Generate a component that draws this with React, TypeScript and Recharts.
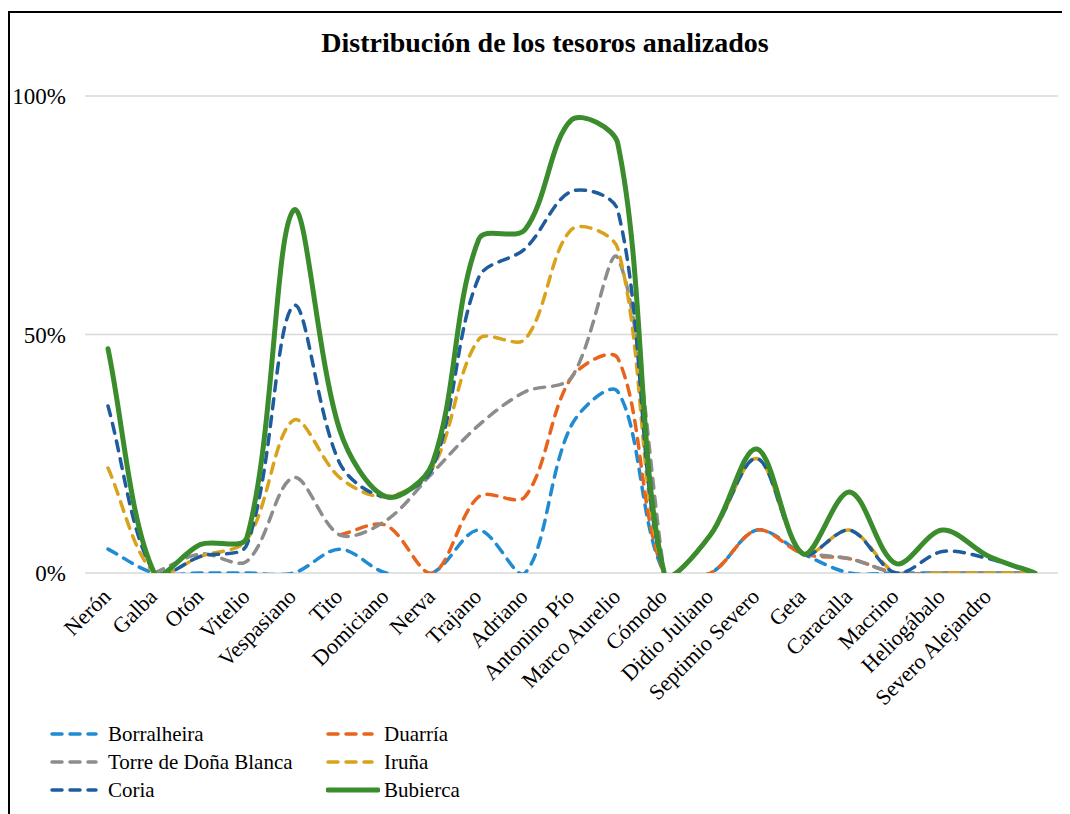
import React from 'react';
import { LineChart, Line, XAxis, YAxis, CartesianGrid, Legend } from 'recharts';

// Categorías (emperadores); la última va sin etiqueta
const categories = [
  'Nerón', 'Galba', 'Otón', 'Vitelio', 'Vespasiano', 'Tito', 'Domiciano', 'Nerva', 'Trajano', 'Adriano',
  'Antonino Pío', 'Marco Aurelio', 'Cómodo', 'Didio Juliano', 'Septimio Severo', 'Geta', 'Caracalla',
  'Macrino', 'Heliogábalo', 'Severo Alejandro', '',
];

// Porcentajes
const borralheira = [5, 0, 0, 0, 0, 5, 0, 0, 9, 0, 31, 38, 0, 0, 9, 4, 0, 0, 0, 0, 0];
const duarria = [null, null, null, null, null, 8, 10, 0, 16, 16, 41, 45, 0, 0, 9, 4, 3, 0, 0, 0, 0];
const torreDonaBlanca = [null, 0, 4, 2.5, 20, 8, 11, 21, 31, 38, 41, 66, 0, null, null, 4, 3, 0, 0, 0, 0];
const iruna = [22, 0, 3.5, 7, 32, 20, 16, 22, 49, 49, 72, 68, 0, 8, 24, 4, 9, 0, 0, 0, 0];
const coria = [35, 0, 3.5, 6, 56, 23, 16, 22, 62, 68, 80, 76, 0, 8, 24, 4, 9, 0, 4.5, 3, 0];
const bubierca = [47, 0, 6, 7.5, 76, 30, 16, 23, 70, 72, 95, 90, 0, 8, 26, 4, 17, 2, 9, 3.5, 0];

const yTicks = [0, 50, 100];

const series = [
  { key: 'borralheira', name: 'Borralheira', color: '#1E8BD2', dashed: true },
  { key: 'duarria', name: 'Duarría', color: '#E8641C', dashed: true },
  { key: 'torre', name: 'Torre de Doña Blanca', color: '#8C8C8C', dashed: true },
  { key: 'iruna', name: 'Iruña', color: '#D9A21B', dashed: true },
  { key: 'coria', name: 'Coria', color: '#1F5C9E', dashed: true },
  { key: 'bubierca', name: 'Bubierca', color: '#3A8C2C', dashed: false },
];

const data = categories.map((name, i) => ({
  name,
  borralheira: borralheira[i],
  duarria: duarria[i],
  torre: torreDonaBlanca[i],
  iruna: iruna[i],
  coria: coria[i],
  bubierca: bubierca[i],
}));

const FONT = '"Liberation Serif", "Times New Roman", serif';

// suavizado parecido al de Excel: tangente de Catmull-Rom repartida según la longitud de cada tramo
const excelSmooth = (context: any) => {
  let pts: number[][] = [];
  const dist = (a: number[], b: number[]) => Math.hypot(b[0] - a[0], b[1] - a[1]);
  return {
    areaStart() {},
    areaEnd() {},
    lineStart() {
      pts = [];
    },
    point(x: number, y: number) {
      pts.push([+x, +y]);
    },
    lineEnd() {
      const n = pts.length;
      if (!n) return;
      context.moveTo(pts[0][0], pts[0][1]);
      const ctrl = (i: number) => {
        // devuelve [antes, después] del punto i
        const p = pts[i];
        const prev = pts[i - 1] || p;
        const next = pts[i + 1] || p;
        const dPrev = dist(prev, p);
        const dNext = dist(p, next);
        const sum = dPrev + dNext || 1;
        const tx = next[0] - prev[0];
        const ty = next[1] - prev[1];
        const k = 1 / 3;
        return [
          [p[0] - tx * (dPrev / sum) * k, p[1] - ty * (dPrev / sum) * k],
          [p[0] + tx * (dNext / sum) * k, p[1] + ty * (dNext / sum) * k],
        ];
      };
      for (let i = 0; i < n - 1; i++) {
        const a = ctrl(i)[1];
        const b = ctrl(i + 1)[0];
        context.bezierCurveTo(a[0], a[1], b[0], b[1], pts[i + 1][0], pts[i + 1][1]);
      }
    },
  };
};

const AxisTick = (props: any) => {
  const { x, y, payload } = props;
  return (
    <g transform={`translate(${x + 4},${y + 25})`}>
      <text textAnchor="end" transform="rotate(-45)" fontSize={22} fontFamily={FONT} fill="#000">
        {payload.value}
      </text>
    </g>
  );
};

const LegendBox = () => (
  <div style={{ display: 'grid', gridTemplateColumns: '276px 200px', rowGap: 0, fontFamily: FONT, fontSize: 21, color: '#000' }}>
    {series.map(s => (
      <div key={s.key} style={{ display: 'flex', alignItems: 'center', height: 28 }}>
        <svg width={54} height={10} style={{ marginRight: 4 }}>
          <line
            x1={2}
            y1={5}
            x2={s.dashed ? 46 : 52}
            y2={5}
            stroke={s.color}
            strokeWidth={s.dashed ? 3.5 : 5}
            strokeDasharray={s.dashed ? '10 8' : undefined}
            strokeLinecap="round"
          />
        </svg>
        <span>{s.name}</span>
      </div>
    ))}
  </div>
);

export default function App() {
  return (
    <div
      style={{
        position: 'relative',
        width: 1062,
        height: 803,
        marginTop: 3,
        borderTop: '2px solid #000',
        borderLeft: '2px solid #000',
        background: '#fff',
      }}
    >
      <div
        style={{
          position: 'absolute',
          top: 14,
          left: 0,
          width: 1070,
          textAlign: 'center',
          fontFamily: FONT,
          fontWeight: 'bold',
          fontSize: 28,
          color: '#000',
        }}
      >
        Distribución de los tesoros analizados
      </div>
      <LineChart width={1058} height={790} data={data} margin={{ top: 83, right: 10, left: 0, bottom: 0 }}>
        <CartesianGrid vertical={false} stroke="#D9D9D9" strokeWidth={1.5} />
        <XAxis
          dataKey="name"
          interval={0}
          axisLine={false}
          tickLine={false}
          tickSize={0}
          tickMargin={0}
          padding={{ left: 23, right: 23 }}
          height={230}
          tick={<AxisTick />}
        />
        <YAxis
          domain={[0, 100]}
          allowDataOverflow
          ticks={yTicks}
          width={75}
          axisLine={false}
          tickLine={false}
          tickSize={0}
          tickMargin={19}
          tickFormatter={(v: number) => `${v}%`}
          tick={{ fontSize: 23, fontFamily: FONT, fill: '#000' }}
        />
        <Legend
          layout="horizontal"
          verticalAlign="middle"
          align="center"
          wrapperStyle={{ left: 40, top: 707, width: 500, height: 90 }}
          content={() => <LegendBox />}
        />
        {series.map(s => (
          <Line
            key={s.key}
            type={excelSmooth as any}
            dataKey={s.key}
            name={s.name}
            stroke={s.color}
            strokeWidth={s.dashed ? 3.5 : 5}
            strokeDasharray={s.dashed ? '10 8' : undefined}
            strokeLinecap="round"
            dot={false}
            activeDot={false}
            isAnimationActive={false}
          />
        ))}
      </LineChart>
    </div>
  );
}
